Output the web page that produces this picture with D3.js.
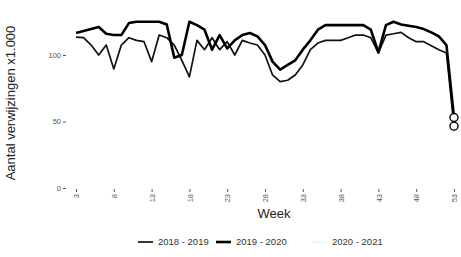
<!DOCTYPE html>
<html>
<head>
<meta charset="utf-8">
<script src="https://cdn.jsdelivr.net/npm/d3@7"></script>
<style>
  body { margin: 0; background: #fff; }
  svg { display: block; font-family: "Liberation Sans", Arial, sans-serif; }
  .tick text { fill: #555; font-size: 7.5px; }
  .tick line { stroke: #555; }
</style>
</head>
<body>
<div id="chart"></div>
<script>
// weeks on the x axis
const weeks = d3.range(3, 54);
const xTicks = [3, 8, 13, 18, 23, 28, 33, 38, 43, 48, 53];
const yTicks = [0, 50, 100];

// referrals x1.000 per week
const season1819 = [113.5, 113, 107.5, 100, 107.5, 89.5, 107.5, 113, 111, 110,
    95, 115, 113, 107.5, 96, 83.5, 111, 104, 113, 104,
    110, 100, 111, 109, 107.5, 100, 85, 80, 81, 85,
    92.5, 104, 109, 111, 111, 111, 113, 115, 115, 113,
    101.5, 115, 116, 117, 113, 110, 110, 107, 104, 101.5,
    46.5];
const season1920 = [116.5, 118, 119.5, 121, 116, 115, 115, 124, 125, 125,
    125, 125, 123, 98, 100, 125, 122.5, 119, 104, 115,
    105, 111, 115, 116.5, 114, 107.5, 95, 89, 92.5, 96,
    104, 111, 119, 122.5, 122.5, 122.5, 122.5, 122.5, 122.5, 119,
    102, 122.5, 125, 123, 122, 121, 119.5, 117, 114, 107.5,
    53];
const season2021 = [];

const seriesNames = ["2018 - 2019", "2019 - 2020", "2020 - 2021"];
const seriesValues = [season1819, season1920, season2021];
const seriesColors = ["#111", "#000", "#f4f4f4"];
const seriesWidths = [1.7, 2.6, 1.7];

const width = 461, height = 257;

const svg = d3.select("#chart").append("svg")
    .attr("width", width)
    .attr("height", height);

const x = d3.scaleLinear().domain([3, 53]).range([76, 454]);
const y = d3.scaleLinear().domain([0, 100]).range([188, 55]);

// y axis
const yAxis = svg.append("g")
    .attr("transform", "translate(66,0)")
    .call(d3.axisLeft(y).tickValues(yTicks).tickSize(3).tickPadding(2));
yAxis.select(".domain").remove();

// x axis with vertical labels
const xAxis = svg.append("g")
    .attr("transform", "translate(0,189)")
    .call(d3.axisBottom(x).tickValues(xTicks).tickSize(3));
xAxis.select(".domain").remove();
xAxis.selectAll(".tick text")
    .attr("transform", "rotate(-90)")
    .attr("x", -5)
    .attr("y", 0)
    .attr("dy", "0.35em")
    .attr("text-anchor", "end");

// axis titles
svg.append("text")
    .attr("transform", "translate(15,103) rotate(-90)")
    .attr("text-anchor", "middle")
    .style("font-size", "13px")
    .style("fill", "#222")
    .text("Aantal verwijzingen x1.000");

svg.append("text")
    .attr("x", 274)
    .attr("y", 218)
    .attr("text-anchor", "middle")
    .style("font-size", "13px")
    .style("fill", "#222")
    .text("Week");

// lines
const line = d3.line()
    .x((d, i) => x(weeks[i]))
    .y(d => y(d));

seriesValues.forEach((vals, k) => {
    if (!vals.length) return;
    svg.append("path")
        .datum(vals)
        .attr("fill", "none")
        .attr("stroke", seriesColors[k])
        .attr("stroke-width", seriesWidths[k])
        .attr("stroke-linejoin", "round")
        .attr("d", line);
});

// end points
seriesValues.forEach((vals, k) => {
    if (!vals.length) return;
    const last = vals.length - 1;
    svg.append("circle")
        .attr("cx", x(weeks[last]))
        .attr("cy", y(vals[last]))
        .attr("r", 4)
        .attr("fill", "#fff")
        .attr("stroke", "#000")
        .attr("stroke-width", 1.4);
});

// legend
const legendX = [138, 216, 312];
const legend = svg.append("g").attr("transform", "translate(0,245)");
seriesNames.forEach((name, k) => {
    const g = legend.append("g").attr("transform", `translate(${legendX[k]},0)`);
    g.append("line")
        .attr("x1", 0).attr("x2", 15)
        .attr("y1", -3).attr("y2", -3)
        .attr("stroke", seriesColors[k])
        .attr("stroke-width", seriesWidths[k]);
    g.append("text")
        .attr("x", 20)
        .attr("y", 0)
        .style("font-size", "9.5px")
        .style("fill", "#333")
        .text(name);
});
</script>
</body>
</html>
